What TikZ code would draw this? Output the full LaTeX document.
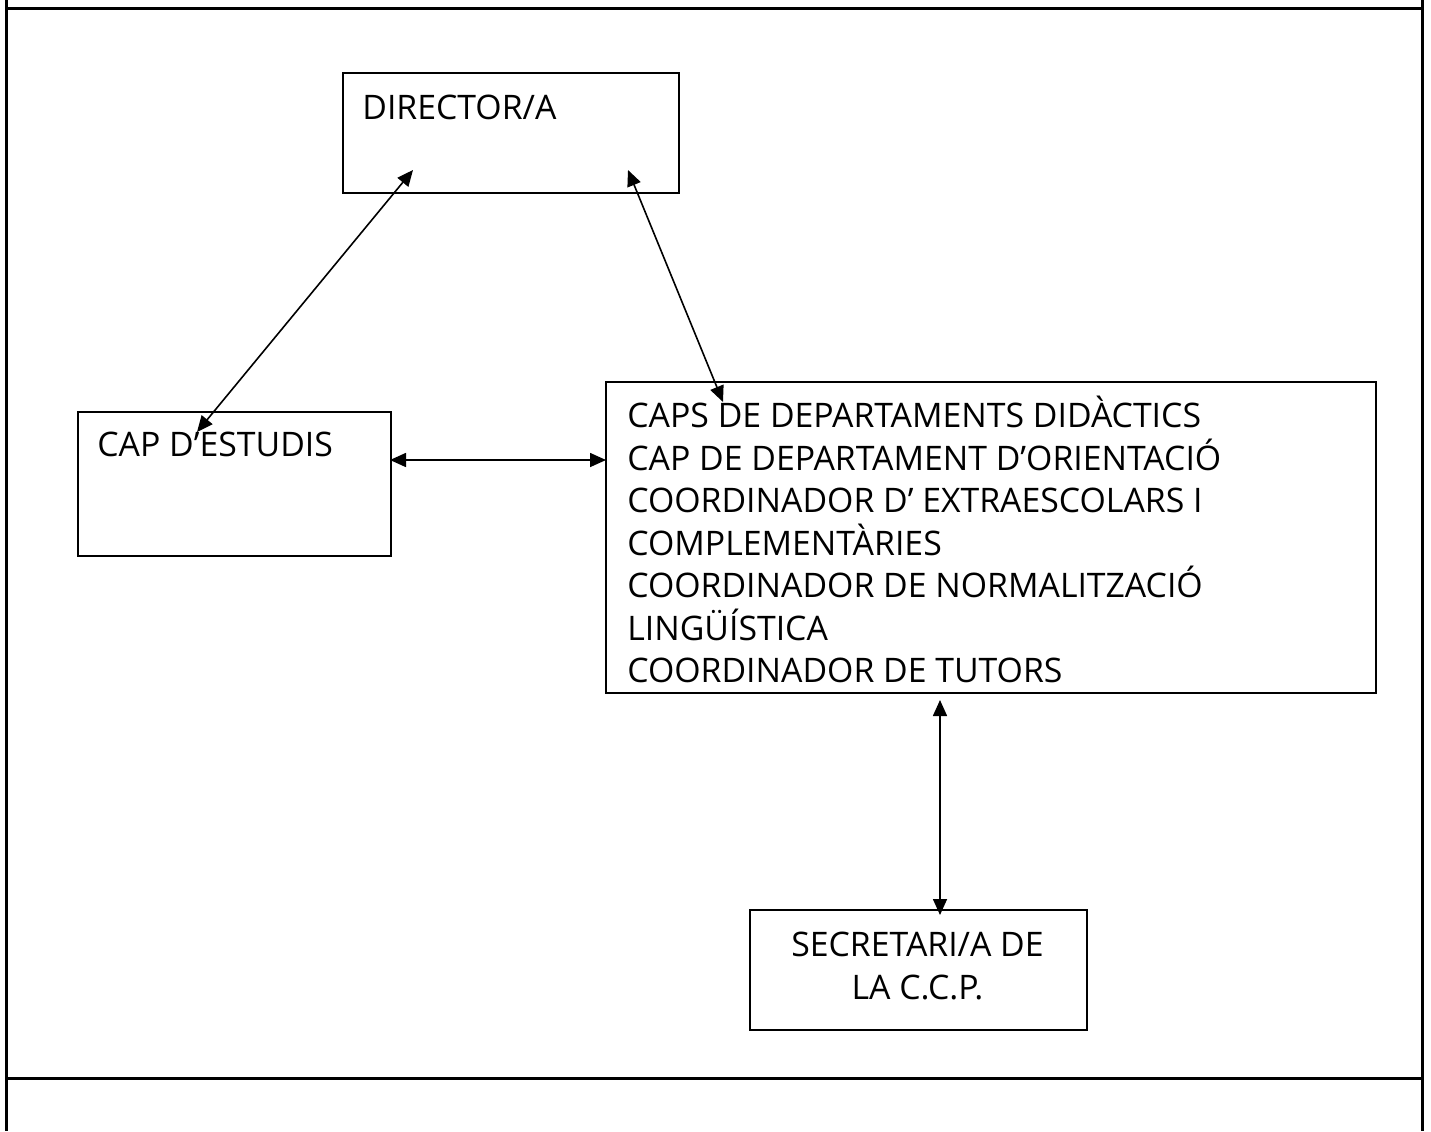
\documentclass[tikz,border=0pt]{standalone}
\usepackage{fontspec}
\setmainfont{Open Sans}
\usetikzlibrary{arrows.meta}
\begin{document}
\begin{tikzpicture}[x=0.5pt,y=-0.5pt,
  box/.style={draw,line width=1pt,inner sep=0pt,anchor=north west},
  lbl/.style={anchor=base west,inner sep=0pt,font=\fontsize{16.9}{21.25}\selectfont},
  link/.style={line width=0.8pt,{Triangle[length=8pt,width=7pt]}-{Triangle[length=8pt,width=7pt]}},
  frame/.style={line width=1.5pt}]
\useasboundingbox (0,0) rectangle (1431,1131);
% outer frame
\coordinate (ftl) at (6,8);
\coordinate (ftr) at (1422,8);
\coordinate (fl0) at (6,0);
\coordinate (fr0) at (1422,0);
\coordinate (flb) at (6,1131);
\coordinate (frb) at (1422,1131);
\coordinate (fml) at (6,1078);
\coordinate (fmr) at (1422,1078);
\draw[frame] (ftl) -- (ftr);
\draw[frame] (fml) -- (fmr);
\draw[frame] (fl0) -- (flb);
\draw[frame] (fr0) -- (frb);
% boxes (sizes in pt = half of pixels)
\node[box,minimum width=168pt,minimum height=60pt] (dir) at (342,72) {};
\node[box,minimum width=156.5pt,minimum height=72pt] (cap) at (77,411) {};
\node[box,minimum width=385pt,minimum height=155.5pt] (dep) at (605,381) {};
\node[box,minimum width=168.5pt,minimum height=60pt] (sec) at (749,909) {};
% texts
\node[lbl] (tdir) at (362,119) {DIRECTOR/A};
\node[lbl] (tcap) at (97,456) {CAP D’ESTUDIS};
\node[lbl,align=left,anchor=north west] (tdep) at (627,396) {CAPS DE DEPARTAMENTS DIDÀCTICS\\CAP DE DEPARTAMENT D’ORIENTACIÓ\\COORDINADOR D’ EXTRAESCOLARS I\\COMPLEMENTÀRIES\\COORDINADOR DE NORMALITZACIÓ\\LINGÜÍSTICA\\COORDINADOR DE TUTORS};
\node[lbl,align=center,anchor=north] (tsec) at (917.5,932) {SECRETARI/A DE\\LA C.C.P.};
% arrow ends
\coordinate (a1) at (413,170);
\coordinate (b1) at (197,432);
\coordinate (a2) at (628,170);
\coordinate (b2) at (723,402);
\coordinate (a3) at (390,460);
\coordinate (b3) at (606,460);
\coordinate (a4) at (940,700);
\coordinate (b4) at (940,915);
\draw[link] (a1) -- (b1);
\draw[link] (a2) -- (b2);
\draw[link] (a3) -- (b3);
\draw[link] (a4) -- (b4);
\end{tikzpicture}
\end{document}
